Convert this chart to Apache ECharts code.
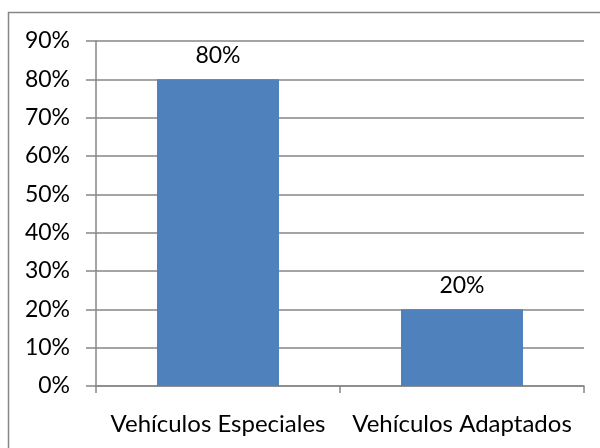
<!DOCTYPE html>
<html>
<head>
<meta charset="utf-8">
<script src="https://cdn.jsdelivr.net/npm/echarts@6/dist/echarts.min.js"></script>
<style>html,body{margin:0;padding:0;background:#fff;}#c{width:600px;height:448px;}</style>
</head>
<body>
<div id="c"></div>
<script>
var categories = ['Vehículos Especiales', 'Vehículos Adaptados'];
var values = [80, 20];
var yTicks = {min: 0, max: 90, interval: 10};

var chart = echarts.init(document.getElementById('c'), null, {renderer: 'canvas'});
var font = 'Lato';
var gray = '#868686';
chart.setOption({
  animation: false,
  backgroundColor: '#ffffff',
  graphic: [{
    type: 'rect', silent: true, z: -1,
    shape: {x: 8.5, y: 12.5, width: 620, height: 460},
    style: {fill: 'none', stroke: gray, lineWidth: 1.5}
  }],
  grid: {left: 96, right: 16, top: 41, bottom: 62, containLabel: false},
  xAxis: {
    type: 'category',
    data: categories,
    axisLine: {show: true, lineStyle: {color: gray, width: 1.5}},
    axisTick: {show: true, length: 7, lineStyle: {color: gray, width: 1.5}},
    axisLabel: {color: '#000', fontFamily: font, fontSize: 24, margin: 26, interval: 0, hideOverlap: false}
  },
  yAxis: {
    type: 'value',
    min: yTicks.min, max: yTicks.max, interval: yTicks.interval,
    axisLine: {show: true, lineStyle: {color: gray, width: 1.5}},
    axisTick: {show: true, length: 10, lineStyle: {color: gray, width: 1.5}},
    splitLine: {show: true, lineStyle: {color: gray, width: 1.5}},
    axisLabel: {color: '#000', fontFamily: font, fontSize: 23, margin: 26, formatter: '{value}%'}
  },
  series: [{
    type: 'bar',
    data: values,
    barWidth: '50%',
    itemStyle: {color: '#4F81BD'},
    label: {show: true, position: 'top', distance: 12, color: '#000', fontFamily: font, fontSize: 23, formatter: '{c}%'}
  }]
});
</script>
</body>
</html>
